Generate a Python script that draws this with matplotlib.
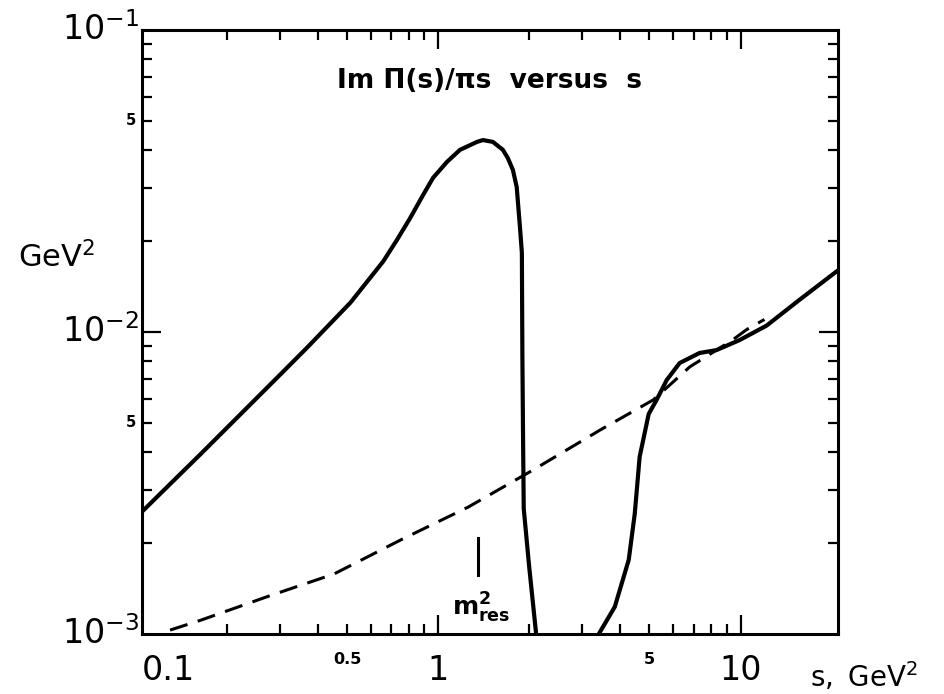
import numpy as np
import matplotlib
matplotlib.use("Agg")
import matplotlib.pyplot as plt
from matplotlib.ticker import FixedLocator, NullFormatter
from matplotlib.transforms import blended_transform_factory

plt.rcParams['font.family'] = ['DejaVu Sans']
plt.rcParams['mathtext.default'] = 'regular'

# solid curve, low-s part (rho-like peak)
s_low = [0.105, 0.164, 0.308, 0.370, 0.513, 0.658, 0.732, 0.808, 0.892,
         0.963, 1.071, 1.182, 1.345, 1.408, 1.518, 1.638, 1.70, 1.768,
         1.82, 1.865, 1.893, 1.90, 1.91, 1.92, 2.0, 2.11]
im_low = [2.54e-3, 3.94e-3, 7.4e-3, 8.9e-3, 1.25e-2, 1.71e-2, 2.02e-2,
          2.38e-2, 2.84e-2, 3.24e-2, 3.66e-2, 4.01e-2, 4.26e-2, 4.32e-2,
          4.26e-2, 4.01e-2, 3.77e-2, 3.44e-2, 3.02e-2, 2.23e-2, 1.83e-2,
          8.5e-3, 4.5e-3, 2.6e-3, 1.68e-3, 1.0e-3]

# solid curve, high-s part
s_high = [3.40, 3.84, 4.27, 4.47, 4.64, 4.97, 5.28, 5.70, 6.29, 7.32,
          8.33, 9.93, 12.2, 15.7, 21.0]
im_high = [1.0e-3, 1.23e-3, 1.76e-3, 2.5e-3, 3.86e-3, 5.35e-3, 5.96e-3,
           6.93e-3, 7.89e-3, 8.52e-3, 8.71e-3, 9.4e-3, 1.05e-2, 1.28e-2,
           1.6e-2]

# dashed curve (asymptotic / parton estimate)
s_dash = [0.13, 0.164, 0.273, 0.453, 0.754, 1.257, 2.06, 3.44, 5.15, 6.79,
          9.4, 10.5, 12.0]
im_dash = [1.03e-3, 1.11e-3, 1.33e-3, 1.58e-3, 2.05e-3, 2.63e-3, 3.49e-3,
           4.74e-3, 5.96e-3, 7.66e-3, 9.4e-3, 1.02e-2, 1.1e-2]

m_res2 = 1.36
m_mark = [1.57e-3, 2.08e-3]

x_minor = [0.2, 0.3, 0.4, 0.5, 0.6, 0.7, 0.8, 0.9, 2, 3, 4, 5, 6, 7, 8, 9]
x_major = [1, 10]
y_minor = [2e-3, 3e-3, 4e-3, 5e-3, 6e-3, 7e-3, 8e-3, 9e-3,
           2e-2, 3e-2, 4e-2, 5e-2, 6e-2, 7e-2, 8e-2, 9e-2]
y_major = [1e-2]

x_big_labels = [(0.1, "0.1"), (1, "1"), (10, "10")]
x_small_labels = [(0.5, "0.5"), (5, "5")]
y_big_labels = [(1e-1, "$10^{-1}$"), (1e-2, "$10^{-2}$"), (1e-3, "$10^{-3}$")]
y_small_labels = [(5e-2, "5"), (5e-3, "5")]

fig = plt.figure(figsize=(9.44, 6.94), dpi=100)
ax = fig.add_axes([0.1504, 0.0865, 0.7373, 0.8703])
ax.set_xscale('log')
ax.set_yscale('log')
ax.set_xlim(0.105, 21)
ax.set_ylim(1e-3, 1e-1)

ax.plot(s_low, im_low, color='black', lw=3.0, solid_capstyle='butt',
        solid_joinstyle='round')
ax.plot(s_high, im_high, color='black', lw=3.0, solid_capstyle='butt',
        solid_joinstyle='round')
ax.plot(s_dash, im_dash, color='black', lw=2.2, dashes=(6, 3.5))
ax.plot([m_res2, m_res2], m_mark, color='black', lw=2.2)

for sp in ax.spines.values():
    sp.set_linewidth(2.2)

ax.xaxis.set_major_locator(FixedLocator(x_major))
ax.xaxis.set_minor_locator(FixedLocator(x_minor))
ax.yaxis.set_major_locator(FixedLocator(y_major))
ax.yaxis.set_minor_locator(FixedLocator(y_minor))
for a in (ax.xaxis, ax.yaxis):
    a.set_major_formatter(NullFormatter())
    a.set_minor_formatter(NullFormatter())
ax.tick_params(which='both', direction='in', top=True, right=True, width=1.6)
ax.tick_params(which='major', length=14)
ax.tick_params(which='minor', length=7)

tx = blended_transform_factory(ax.transData, ax.transAxes)
ty = blended_transform_factory(ax.transAxes, ax.transData)

for xv, lab in x_big_labels:
    if xv < 0.105:
        ax.text(0.105, -0.06, lab, transform=tx, ha='left', va='center', fontsize=24)
    else:
        ax.text(xv, -0.06, lab, transform=tx, ha='center', va='center', fontsize=24)
for xv, lab in x_small_labels:
    ax.text(xv, -0.042, lab, transform=tx, ha='center', va='center',
            fontsize=11.5, fontweight='bold')
for yv, lab in y_big_labels:
    ax.text(-0.004, yv, lab, transform=ty, ha='right', va='center', fontsize=24)
for yv, lab in y_small_labels:
    ax.text(-0.008, yv, lab, transform=ty, ha='right', va='center',
            fontsize=10.5, fontweight='bold')

ax.text(0.5, 0.915, "Im Π(s)/πs  versus  s", transform=ax.transAxes,
        ha='center', va='center', fontsize=19, fontweight='bold')
ax.text(1.11, 1.15e-3, "$m^2_{res}$", ha='left', va='baseline',
        fontsize=18, fontweight='bold')

fig.text(57 / 944, 1 - 257 / 694, "$GeV^2$", ha='center', va='center', fontsize=22)
fig.text(810 / 944, 1 - 677 / 694, "$s,\\ GeV^2$", ha='left', va='center', fontsize=20)

fig.savefig("out.png", dpi=100)
